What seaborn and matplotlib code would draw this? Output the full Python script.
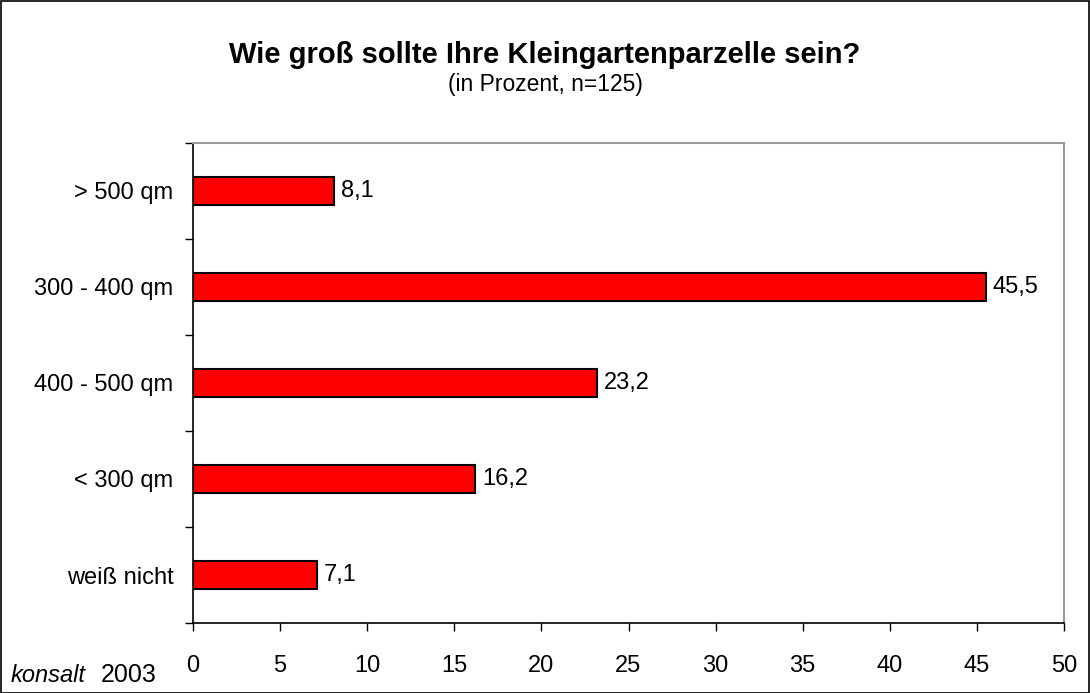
import matplotlib
matplotlib.use("Agg")
import matplotlib.pyplot as plt
import seaborn as sns
import pandas as pd
from matplotlib.patches import Rectangle
from matplotlib.ticker import FixedLocator

categories = ["> 500 qm", "300 - 400 qm", "400 - 500 qm", "< 300 qm", "weiß nicht"]
values = [8.1, 45.5, 23.2, 16.2, 7.1]
xticks = [0, 5, 10, 15, 20, 25, 30, 35, 40, 45, 50]

sns.set_theme(style="white")
plt.rcParams['font.family'] = ['Liberation Sans', 'DejaVu Sans']

df = pd.DataFrame({"cat": categories, "val": values})

fig = plt.figure(figsize=(10.9, 6.93), dpi=100)
ax = fig.add_axes([193/1090, 70/693, (1064-193)/1090, (623-143)/693])

sns.barplot(data=df, x="val", y="cat", order=categories, orient="h",
            color="#FF0000", edgecolor="black", linewidth=1.5, width=0.29,
            saturation=1, ax=ax)

for i, v in enumerate(values):
    ax.text(v + 0.4, i, f"{v:.1f}".replace(".", ","), va="center", ha="left",
            fontsize=17, color="black")

ax.set_xlim(0, 50)
ax.set_ylim(4.5, -0.5)
ax.set_xticks(xticks)
ax.set_xticklabels([str(t) for t in xticks], fontsize=17)
ax.set_xlabel("")
ax.set_ylabel("")
ax.tick_params(axis="x", direction="out", length=6, width=1, color="black", pad=17, bottom=True)
ax.tick_params(axis="y", which="major", length=0, pad=14, labelsize=17)
ax.yaxis.set_minor_locator(FixedLocator([-0.5, 0.5, 1.5, 2.5, 3.5, 4.5]))
ax.tick_params(axis="y", which="minor", direction="out", length=6, width=1, color="black", left=True)
for lab in ax.get_yticklabels():
    lab.set_color("black")
for lab in ax.get_xticklabels():
    lab.set_color("black")

for s in ["left", "bottom"]:
    ax.spines[s].set_color("black")
    ax.spines[s].set_linewidth(1.2)
for s in ["top", "right"]:
    ax.spines[s].set_color("#999999")
    ax.spines[s].set_linewidth(1.5)
ax.grid(False)

fig.text(0.5, 1 - 55/693, "Wie groß sollte Ihre Kleingartenparzelle sein?",
         ha="center", va="center", fontsize=21, fontweight="bold", color="black")
fig.text(0.5, 1 - 85/693, "(in Prozent, n=125)", ha="center", va="center",
         fontsize=16.5, color="black")

fig.text(11/1090, 1 - 675/693, "konsalt", ha="left", va="center", fontsize=17,
         style="italic", color="black")
fig.text(101/1090, 1 - 675/693, "2003", ha="left", va="center", fontsize=18, color="black")

fig.add_artist(Rectangle((0.5/1090, 0.5/693), 1 - 1.5/1090, 1 - 1.5/693,
                         transform=fig.transFigure, fill=False, edgecolor="black", linewidth=1.2))

fig.savefig("out.png", dpi=100)
